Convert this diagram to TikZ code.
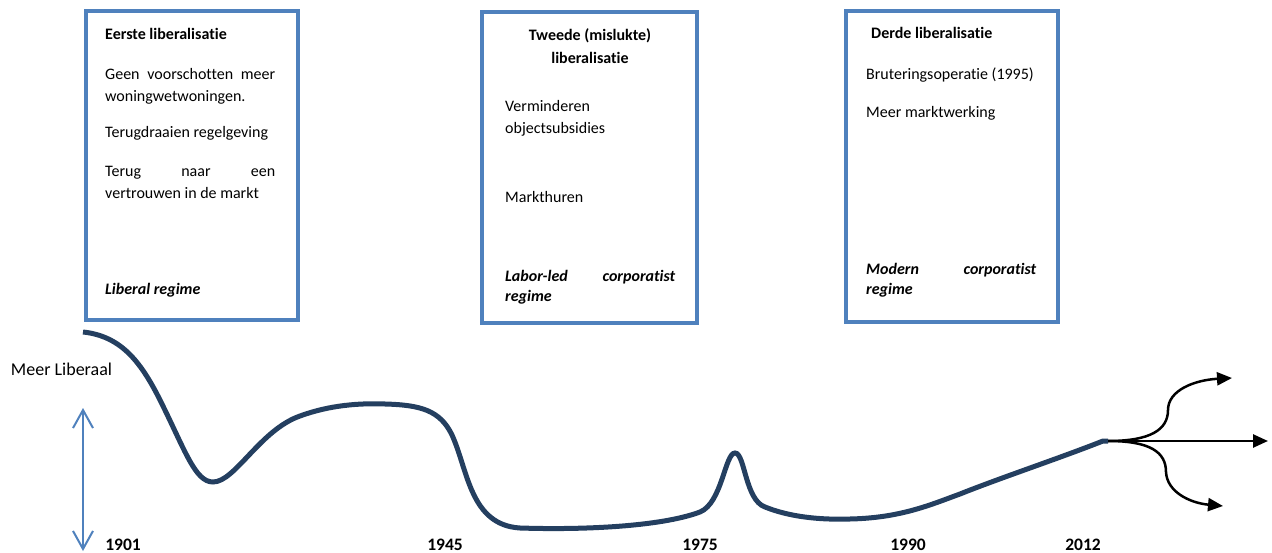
\documentclass[tikz,border=0pt]{standalone}
\usepackage{fontspec}
\setmainfont{Carlito}[Ligatures=NoCommon]
\usetikzlibrary{arrows.meta}
\definecolor{boxblue}{RGB}{79,129,189}
\definecolor{curvenavy}{RGB}{36,63,96}
\hbadness=10000

\begin{document}
\begin{tikzpicture}[x=1pt,y=-1pt,
    frame/.style={draw=boxblue,line width=4.8pt,fill=white},
    body/.style={anchor=north west,inner sep=0pt,text width=170pt,align=justify,
      font=\fontsize{16}{22}\selectfont},
    head/.style={anchor=north west,inner sep=0pt,font=\fontsize{16}{23}\selectfont\bfseries},
    regime/.style={body,font=\fontsize{16}{20}\selectfont\bfseries\itshape},
    year/.style={inner sep=0pt,font=\fontsize{17.5}{20}\selectfont\bfseries},
    fan/.style={black,line width=2.5pt,-{Triangle[length=15pt,width=13pt]}}]
    \useasboundingbox (0,0) rectangle (1272,553);

    % the three boxes
    \draw[frame] (86,11) rectangle (298,320);
    \draw[frame] (482,12) rectangle (697,323);
    \draw[frame] (846,11) rectangle (1058,322);

    \node[head] (t1) at (105,28) {Eerste liberalisatie};
    \node[body] (p1a) at (105,68) {Geen voorschotten meer\linebreak woningwetwoningen.};
    \node[body] (p1b) at (105,126) {Terugdraaien regelgeving};
    \node[body] (p1c) at (105,166) {Terug naar een\linebreak vertrouwen in de markt};
    \node[regime] (r1) at (105,283) {Liberal regime};

    \node[head,anchor=north,align=center] (t2) at (590,28) {Tweede (mislukte)\\liberalisatie};
    \node[body] (p2a) at (505,100) {Verminderen\\objectsubsidies};
    \node[body] (p2b) at (505,191) {Markthuren};
    \node[regime] (r2) at (505,270) {Labor-led corporatist\linebreak regime};

    \node[head] (t3) at (871,27) {Derde liberalisatie};
    \node[body] (p3a) at (866,68) {Bruteringsoperatie (1995)};
    \node[body] (p3b) at (866,106) {Meer marktwerking};
    \node[regime] (r3) at (866,263) {Modern corporatist\linebreak regime};

    % axis
    \node[inner sep=0pt,font=\fontsize{18}{20}\selectfont] (liberaal) at (61.5,369) {Meer Liberaal};
    \coordinate (up) at (83,408);
    \coordinate (down) at (83,551);
    \draw[boxblue,line width=2pt,{Straight Barb[length=18pt,width=20pt]}-{Straight Barb[length=18pt,width=20pt]}] (up) -- (down);

    % the course
    \draw[curvenavy,line width=5pt] (83,332)
      .. controls (120,336) and (140,360) .. (160,400)
      .. controls (185,450) and (195,482) .. (213,482)
      .. controls (235,482) and (260,430) .. (300,416)
      .. controls (330,405) and (360,403) .. (385,404)
      .. controls (420,405) and (440,410) .. (452,435)
      .. controls (468,470) and (470,525) .. (520,528)
      .. controls (580,530) and (660,527) .. (700,512)
      .. controls (722,503) and (725,453) .. (735,453)
      .. controls (745,453) and (745,500) .. (765,507)
      .. controls (790,517) and (820,520) .. (850,519)
      .. controls (900,518) and (930,505) .. (960,494)
      .. controls (1000,478) and (1060,458) .. (1103,441) -- (1108,441);

    % three futures
    \coordinate (fork) at (1108,441);
    \coordinate (hi) at (1232,378);
    \coordinate (mid) at (1268,441);
    \coordinate (lo) at (1223,506);
    \draw[fan] (fork) -- (mid);
    \draw[fan] (fork) .. controls (1150,441) and (1168,430) .. (1168,410)
      .. controls (1168,390) and (1195,380) .. (hi);
    \draw[fan] (fork) .. controls (1150,441) and (1166,452) .. (1166,472)
      .. controls (1167,492) and (1190,503) .. (lo);

    \node[year] (y1901) at (123,545) {1901};
    \node[year] (y1945) at (445,545) {1945};
    \node[year] (y1975) at (700,545) {1975};
    \node[year] (y1990) at (908,545) {1990};
    \node[year] (y2012) at (1083,545) {2012};
\end{tikzpicture}
\end{document}
